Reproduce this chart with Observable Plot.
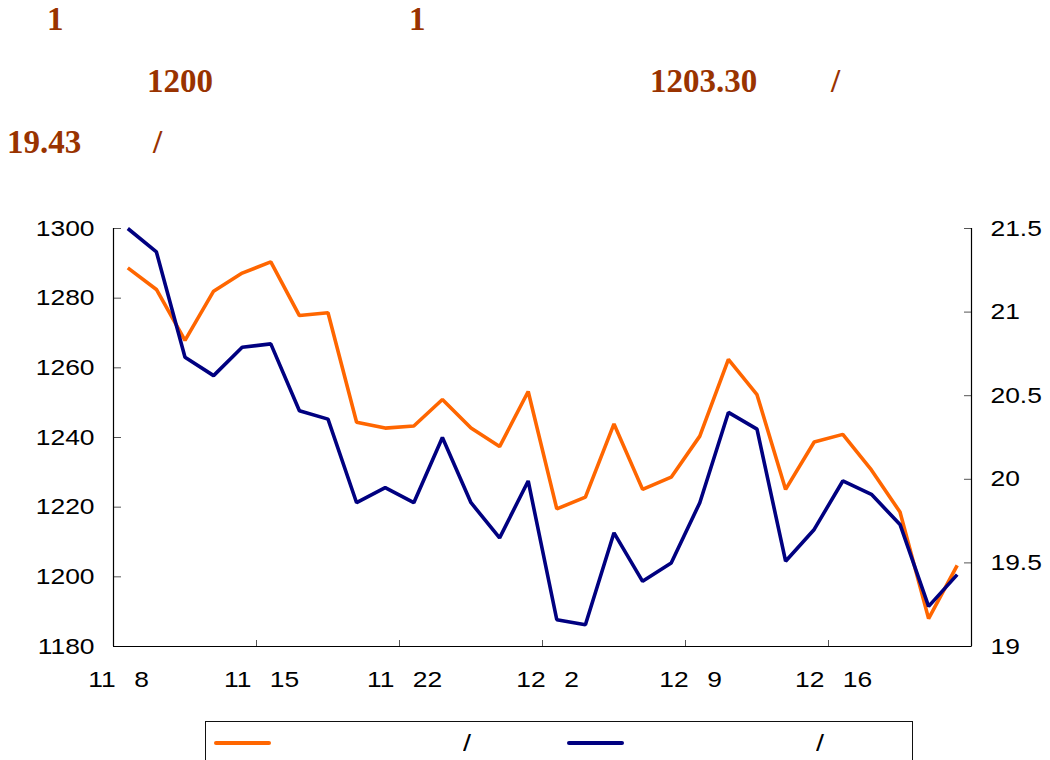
<!DOCTYPE html>
<html><head><meta charset="utf-8">
<script src="https://cdn.jsdelivr.net/npm/d3@7"></script>
<script src="https://cdn.jsdelivr.net/npm/@observablehq/plot@0.6"></script>
<style>
html,body{margin:0;padding:0;background:#fff;overflow:hidden}
#page{position:relative;width:1050px;height:760px;overflow:hidden;background:#fff}
.t{position:absolute;font-family:"Liberation Serif","Times New Roman",serif;font-weight:bold;font-size:33px;color:#993300;white-space:pre;line-height:1}
#chart{position:absolute;left:0;top:180px}
#legend{position:absolute;left:205px;top:721px;width:708px;height:60px;border:1.5px solid #111;box-sizing:border-box}
.sw{position:absolute;height:4px;border-radius:2px}
.lt{position:absolute;font-family:"Liberation Sans",Arial,sans-serif;font-size:24px;line-height:1;color:#000;white-space:pre;transform:scaleX(1.2);transform-origin:left top}
</style>
</head><body>
<div id="page">
  <div class="t" style="left:47px;top:3px">1</div>
  <div class="t" style="left:409px;top:3px">1</div>
  <div class="t" style="left:147px;top:65px">1200</div>
  <div class="t" style="left:650px;top:65px">1203.30</div>
  <div class="t" style="left:831px;top:65px">/</div>
  <div class="t" style="left:7px;top:126px">19.43</div>
  <div class="t" style="left:153px;top:126px">/</div>
  <div id="chart"></div>
  <div id="legend"></div>
</div>
<script>
// ---- data ----
const G = "\u2002\u2009"; // blank where the original CJK glyphs are not rendered
const xLabels = ["11" + G + "8" + G, "11" + G + "15" + G, "11" + G + "22" + G, "12" + G + "2" + G, "12" + G + "9" + G, "12" + G + "16" + G];
const labelIdx = [0, 5, 10, 15, 20, 25];
const weekTicks = [-0.5, 4.5, 9.5, 14.5, 19.5, 24.5, 29.5];
const leftTicks = [1180, 1200, 1220, 1240, 1260, 1280, 1300];
const rightTicks = [19, 19.5, 20, 20.5, 21, 21.5];
const gold = [1288.7, 1282.5, 1267.9, 1282.0, 1287.2, 1290.4, 1275.0, 1275.8, 1244.4, 1242.7,
              1243.3, 1250.9, 1242.7, 1237.4, 1253.2, 1219.5, 1222.9, 1243.9, 1225.1, 1228.6,
              1240.4, 1262.4, 1252.3, 1225.1, 1238.7, 1240.9, 1230.7, 1218.6, 1188.0, 1203.3];
const silver = [21.50, 21.36, 20.73, 20.62, 20.79, 20.81, 20.41, 20.36, 19.86, 19.95,
                19.86, 20.25, 19.86, 19.65, 19.99, 19.16, 19.13, 19.68, 19.39, 19.50,
                19.86, 20.40, 20.30, 19.51, 19.70, 19.99, 19.91, 19.73, 19.24, 19.43];
const seriesColors = ["#FF6600", "#000080"];
const legendSlash = ["/", "/"];

// map the right axis (19–21.5) onto the left axis (1180–1300)
const toLeft = r => 1180 + (r - 19) * 48;
const rightPos = rightTicks.map(toLeft);

const goldData = gold.map((v, i) => ({i, v}));
const silverData = silver.map((v, i) => ({i, v: toLeft(v)}));

const svg = Plot.plot({
  width: 1050, height: 526,
  marginLeft: 113, marginRight: 79, marginTop: 48, marginBottom: 60,
  style: {fontFamily: "'Liberation Sans', Arial, sans-serif", fontSize: "22px", color: "#000", background: "#fff"},
  x: {domain: [-0.5, 29.5]},
  y: {domain: [1180, 1300]},
  marks: [
    Plot.axisY({ticks: leftTicks, anchor: "left", tickSize: 0, tickPadding: 19, label: null, tickFormat: d => String(d)}),
    Plot.axisY({ticks: leftTicks, anchor: "left", tickSize: -8, tickFormat: () => "", label: null, stroke: "#555"}),
    Plot.axisY({ticks: rightPos, anchor: "right", tickSize: 0, tickPadding: 19, label: null, tickFormat: d => String(rightTicks[rightPos.indexOf(d)])}),
    Plot.axisY({ticks: rightPos, anchor: "right", tickSize: -8, tickFormat: () => "", label: null, stroke: "#555"}),
    Plot.axisX({ticks: labelIdx, tickSize: 0, tickPadding: 25, label: null, tickFormat: d => xLabels[labelIdx.indexOf(d)]}),
    Plot.axisX({ticks: weekTicks, tickSize: -6, tickFormat: () => "", label: null, stroke: "#555"}),
    Plot.ruleX([-0.5, 29.5], {stroke: "#000", strokeWidth: 1.2}),
    Plot.ruleY([1180], {stroke: "#000", strokeWidth: 1.2}),
    Plot.lineY(goldData, {x: "i", y: "v", stroke: seriesColors[0], strokeWidth: 3.6, strokeLinejoin: "miter", strokeLinecap: "butt"}),
    Plot.lineY(silverData, {x: "i", y: "v", stroke: seriesColors[1], strokeWidth: 3.6, strokeLinejoin: "miter", strokeLinecap: "butt"})
  ]
});

// widen axis label glyphs horizontally, as in the reference rendering
svg.querySelectorAll('g[aria-label$="tick label"] text').forEach(t => {
  const x = +t.getAttribute("x") || 0, y = +t.getAttribute("y") || 0;
  const tr = t.getAttribute("transform") || "";
  t.setAttribute("transform", `${tr} translate(${x},${y}) scale(1.2,1) translate(${-x},${-y})`);
});
document.getElementById("chart").appendChild(svg);

// legend
const legend = document.getElementById("legend");
const swLeft = [214, 567], slashLeft = [463, 816];
seriesColors.forEach((c, k) => {
  const s = document.createElement("div");
  s.className = "sw";
  s.style.cssText = `left:${swLeft[k] - 206.5}px;top:${741 - 722.5}px;width:57px;background:${c}`;
  legend.appendChild(s);
  const l = document.createElement("div");
  l.className = "lt";
  l.textContent = legendSlash[k];
  l.style.left = (slashLeft[k] - 206.5) + "px";
  l.style.top = (731 - 722.5) + "px";
  legend.appendChild(l);
});
</script>
</body></html>
